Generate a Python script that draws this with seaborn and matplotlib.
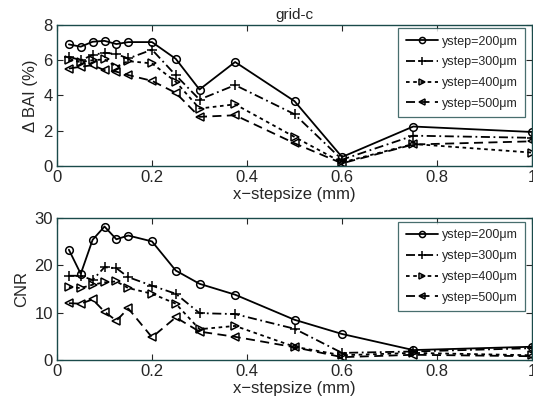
import numpy as np
import pandas as pd
import matplotlib
matplotlib.use("Agg")
import matplotlib.pyplot as plt
import seaborn as sns

x_steps = [0.025, 0.05, 0.075, 0.1, 0.125, 0.15, 0.2, 0.25, 0.3, 0.375, 0.5, 0.6, 0.75, 1.0]
series_labels = ["ystep=200\u03bcm", "ystep=300\u03bcm", "ystep=400\u03bcm", "ystep=500\u03bcm"]

bai_200 = [6.9, 6.77, 7.05, 7.1, 6.92, 7.03, 7.03, 6.08, 4.34, 5.9, 3.68, 0.51, 2.24, 1.93]
bai_300 = [6.2, 6.0, 6.3, 6.43, 6.35, 6.1, 6.6, 5.15, 3.77, 4.59, 2.94, 0.36, 1.72, 1.6]
bai_400 = [6.0, 5.9, 6.0, 6.05, 5.63, 5.95, 5.82, 4.78, 3.26, 3.5, 1.65, 0.2, 1.25, 0.76]
bai_500 = [5.53, 5.63, 5.72, 5.44, 5.35, 5.16, 4.83, 4.15, 2.79, 2.88, 1.29, 0.15, 1.22, 1.4]

cnr_200 = [23.3, 18.2, 25.4, 28.2, 25.5, 26.3, 25.05, 18.9, 16.1, 13.8, 8.5, 5.5, 2.1, 2.8]
cnr_300 = [17.8, 17.8, 16.9, 19.6, 19.4, 17.5, 15.7, 14.0, 9.9, 9.7, 6.6, 1.5, 1.8, 2.5]
cnr_400 = [15.4, 15.2, 15.9, 16.4, 16.6, 15.2, 14.0, 11.9, 6.5, 7.2, 2.8, 1.0, 1.5, 1.0]
cnr_500 = [12.0, 11.9, 12.8, 10.2, 8.3, 10.9, 4.8, 9.0, 6.0, 4.9, 2.7, 0.6, 1.1, 0.8]

title = "grid-c"
xlabel = "x\u2212stepsize (mm)"
ylabel_top = "\u0394 BAI (%)"
ylabel_bot = "CNR"

sns.set_style("ticks")
plt.rcParams["font.family"] = ["Liberation Sans", "DejaVu Sans"]
plt.rcParams["xtick.direction"] = "in"
plt.rcParams["ytick.direction"] = "in"
plt.rcParams["xtick.top"] = True
plt.rcParams["ytick.right"] = True

W, H = 533, 407
fig = plt.figure(figsize=(W/100, H/100), dpi=100)
ax1 = fig.add_axes([57/W, 1-166/H, (532-57)/W, (166-25)/H])
ax2 = fig.add_axes([57/W, 1-360/H, (532-57)/W, (360-218)/H])

styles = [("-", "o"), ("-.", "+"), (":", ">"), ("--", "<")]
dashes = ["-", (0, (5, 2, 1, 2)), (0, (2, 2)), (0, (5, 3))]

def draw(ax, values, ylim, yticks, ylabel, leg_top):
    for vals, lab, (ls, mk), dsh in zip(values, series_labels, styles, dashes):
        df = pd.DataFrame({"x": x_steps, "y": vals})
        sns.lineplot(data=df, x="x", y="y", ax=ax, color="black", linewidth=1.3,
                     linestyle=dsh, marker=mk, markersize=5.5 if mk != "+" else 7,
                     markerfacecolor="none" if mk != "+" else "black",
                     markeredgecolor="black", markeredgewidth=1.1, label=lab)
    ax.set_xlim(0, 1)
    ax.set_ylim(*ylim)
    ax.set_xticks([0, 0.2, 0.4, 0.6, 0.8, 1])
    ax.set_xticklabels(["0", "0.2", "0.4", "0.6", "0.8", "1"])
    ax.set_yticks(yticks)
    ax.set_xlabel(xlabel, fontsize=12, labelpad=1)
    ax.set_ylabel(ylabel, fontsize=12, labelpad=4)
    ax.tick_params(labelsize=12, length=4, width=0.8, pad=3)
    for s in ax.spines.values():
        s.set_linewidth(1.0)
        s.set_color("#1a4a4a")
    leg = ax.legend(loc="upper left", fontsize=9, handlelength=2.6, frameon=True,
                    fancybox=False, edgecolor="#1a4a4a", borderpad=0.6,
                    labelspacing=0.7, handletextpad=0.3, markerscale=0.8,
                    borderaxespad=0, bbox_to_anchor=(398/W, 1-leg_top/H),
                    bbox_transform=fig.transFigure)
    leg.get_frame().set_linewidth(0.9)

draw(ax1, [bai_200, bai_300, bai_400, bai_500], (0, 8), [0, 2, 4, 6, 8], ylabel_top, 28)
draw(ax2, [cnr_200, cnr_300, cnr_400, cnr_500], (0, 30), [0, 10, 20, 30], ylabel_bot, 222)
ax1.set_title(title, fontsize=11, pad=4)

fig.savefig("out.png", dpi=100)
